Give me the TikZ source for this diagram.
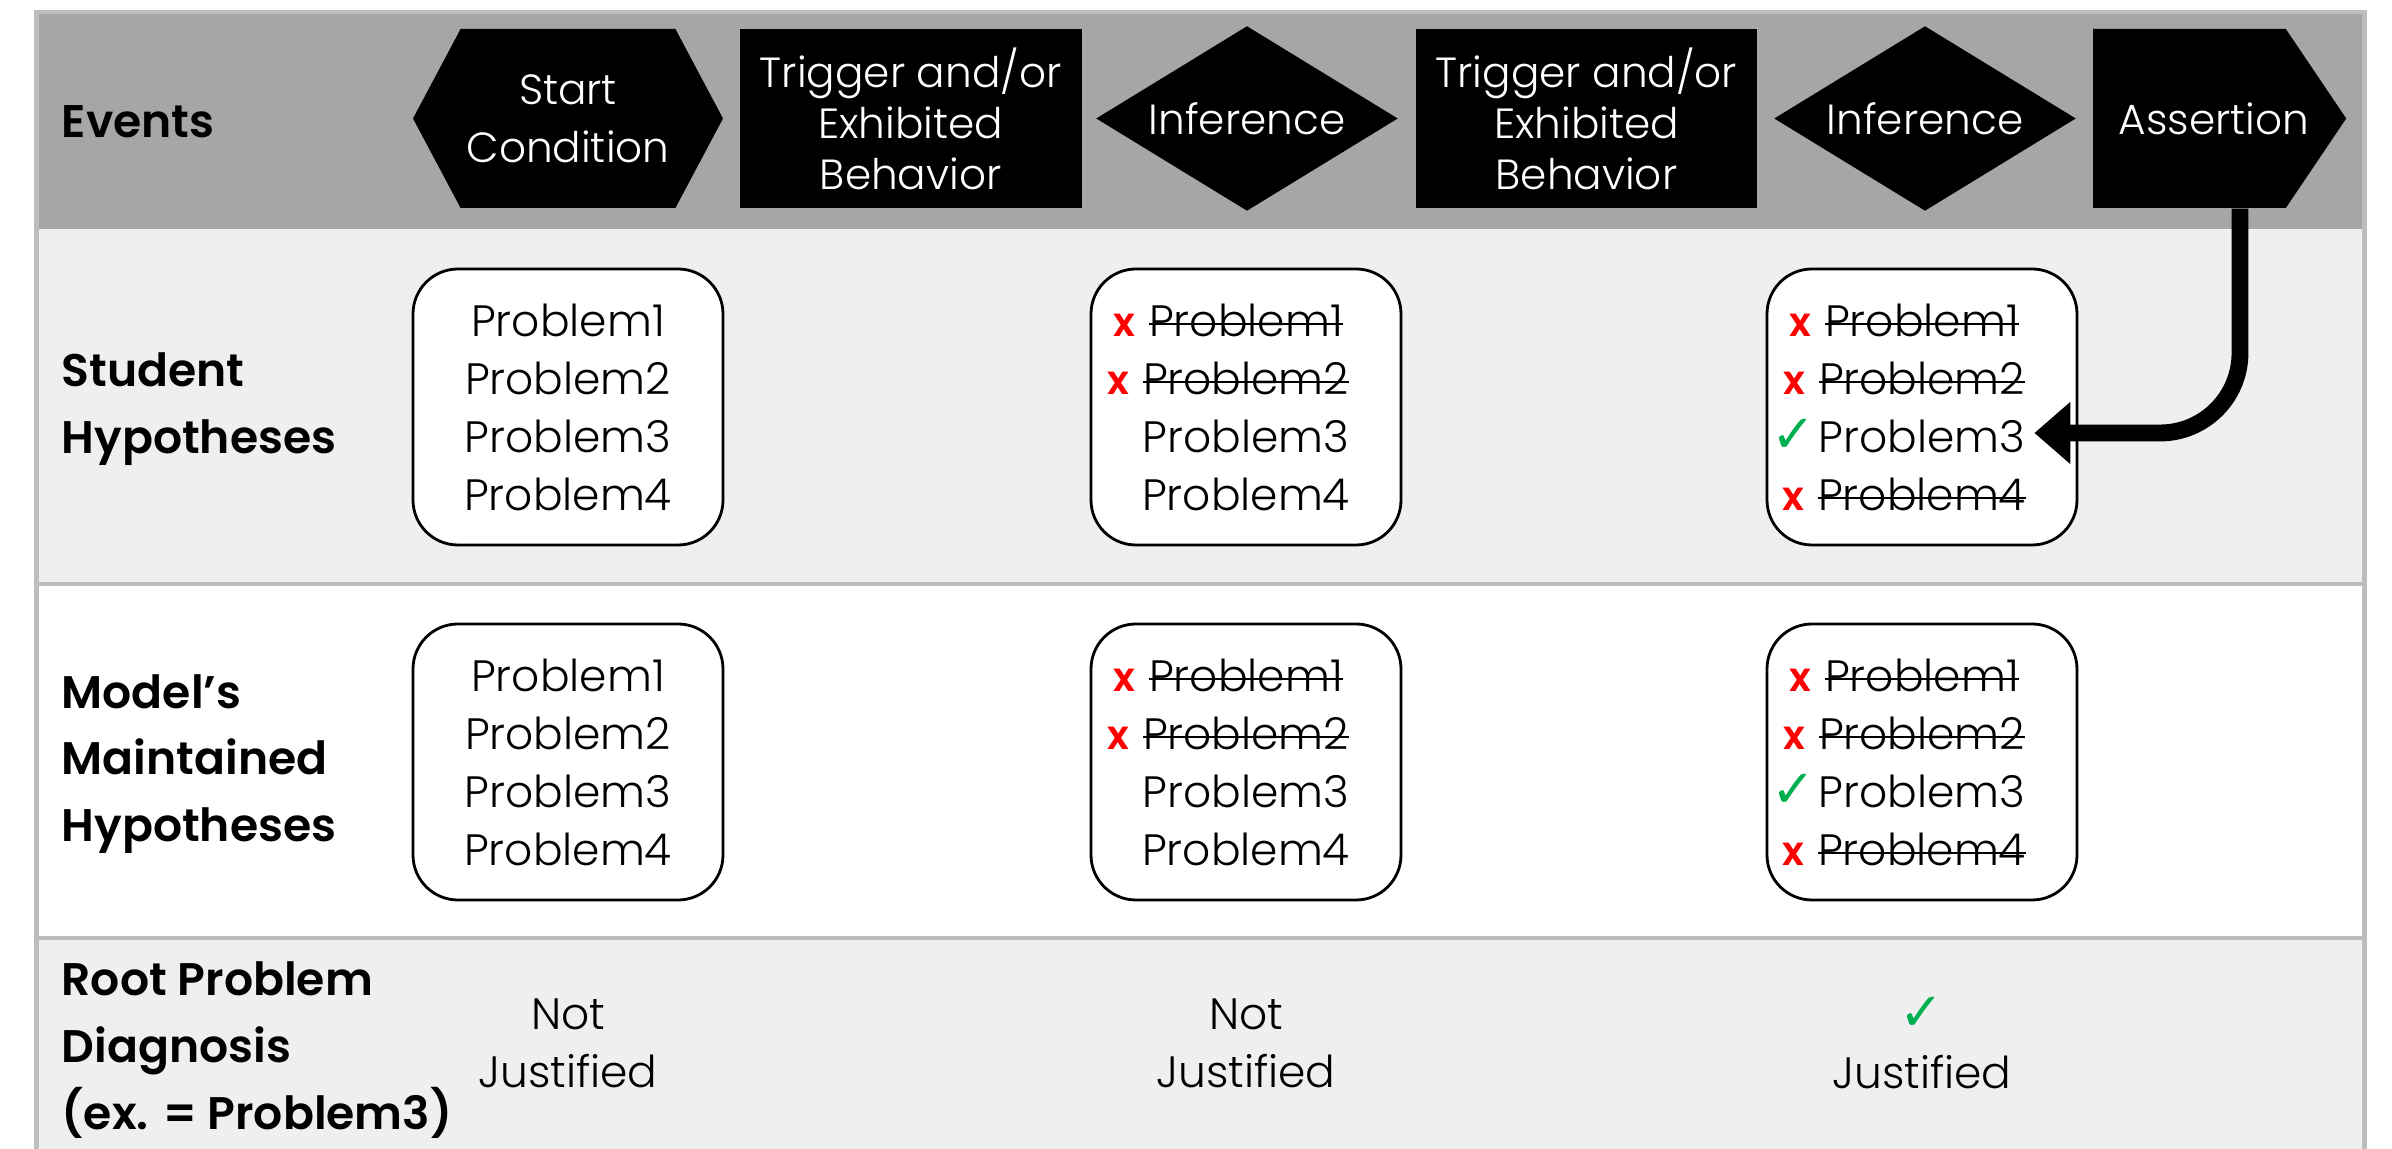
\documentclass[tikz,border=0pt]{standalone}
\usepackage{fontspec}
\setmainfont{Poppins Light}[BoldFont={Poppins SemiBold}]
\newfontfamily\labelfont{Poppins SemiBold}
\newfontfamily\symfont{DejaVu Sans}
\usetikzlibrary{shapes.geometric,shapes.symbols,arrows.meta,positioning}

\definecolor{bandgray}{HTML}{A6A6A6}
\definecolor{rowgray}{HTML}{EFEFEF}
\definecolor{rulegray}{HTML}{BDBDBD}
\definecolor{tickgreen}{HTML}{00B050}

\newcommand{\strikeout}[1]{\setbox0\hbox{#1}\rlap{\rule[0.45ex]{\wd0}{0.6pt}}\box0}
\newcommand{\tick}{\textcolor{tickgreen}{\symfont\fontsize{15}{15}\selectfont ✓}}
\newcommand{\dropped}[1]{\llap{\textcolor{red}{\bfseries\fontsize{11.5}{11.5}\selectfont x}\hspace{4pt}}\strikeout{#1}}
\newcommand{\kept}[1]{\llap{\tick\hspace{1pt}}#1}

\begin{document}
\begin{tikzpicture}[
      event hex/.style={signal,signal to=west and east,signal pointer angle=124,fill=black,text=white,
        minimum width=3.1cm,minimum height=1.79cm,inner sep=0pt,align=center,font=\fontsize{12}{16.5}\selectfont},
      event box/.style={rectangle,fill=black,text=white,minimum width=3.417cm,minimum height=1.79cm,
        inner sep=0pt,align=center,font=\fontsize{12}{14.5}\selectfont},
      event diamond/.style={diamond,aspect=1.63,fill=black,text=white,minimum width=3.02cm,
        minimum height=1.85cm,inner sep=0pt,font=\fontsize{12}{14.5}\selectfont},
      event assert/.style={signal,signal to=east,signal pointer angle=112,fill=black,text=white,
        minimum width=2.53cm,minimum height=1.79cm,inner sep=0pt,font=\fontsize{12}{14.5}\selectfont},
      hyp box/.style={rectangle,rounded corners=0.45cm,draw=black,line width=0.8pt,fill=white,
        minimum width=3.1cm,minimum height=2.76cm,align=center,font=\fontsize{12.5}{16.5}\selectfont},
      row label/.style={anchor=west,align=left,inner sep=0pt,font=\fontsize{13}{19}\selectfont\labelfont},
      verdict/.style={align=center,font=\fontsize{12.5}{16.5}\selectfont}]

      \useasboundingbox (0,0) rectangle (23.92,11.49);

      % table bands
      \fill[bandgray] (0.366,9.202) rectangle (23.645,11.368);
      \fill[rowgray] (0.366,5.647) rectangle (23.645,9.202);
      \fill[rowgray] (0.366,0) rectangle (23.645,2.108);
      \draw[rulegray,line width=1.2pt] (0.366,0) -- (0.366,11.368) -- (23.645,11.368) -- (23.645,0);
      \draw[rulegray,line width=1.2pt] (0.366,5.647) -- (23.645,5.647);
      \draw[rulegray,line width=1.2pt] (0.366,2.108) -- (23.645,2.108);

      % row labels
      \node[row label] (lev) at (0.61,10.27) {Events};
      \node[row label] (lstud) at (0.61,7.40) {Student\\Hypotheses};
      \node[row label] (lmod) at (0.61,3.85) {Model’s\\Maintained\\Hypotheses};
      \node[row label] (lroot) at (0.61,0.99) {Root Problem\\Diagnosis\\(ex. = Problem3)};

      % events
      \node[event hex] (start) at (5.68,10.305) {Start\\Condition};
      \node[event box] (trig1) at (9.107,10.305) {Trigger and/or\\Exhibited\\Behavior};
      \node[event diamond] (inf1) at (12.47,10.305) {Inference};
      \node[event box] (trig2) at (15.865,10.305) {Trigger and/or\\Exhibited\\Behavior};
      \node[event diamond] (inf2) at (19.25,10.305) {Inference};
      \node[event assert] (assert) at (21.895,10.305) {\makebox[0pt]{\hspace{0.49cm}Assertion}};

      % student hypotheses
      \node[hyp box] (s1) at (5.68,7.42) {Problem1\\Problem2\\Problem3\\Problem4};
      \node[hyp box] (s2) at (12.46,7.42) {\dropped{Problem1}\\\dropped{Problem2}\\Problem3\\Problem4};
      \node[hyp box] (s3) at (19.22,7.42) {\dropped{Problem1}\\\dropped{Problem2}\\\kept{Problem3}\\\dropped{Problem4}};

      % model's maintained hypotheses
      \node[hyp box] (m1) at (5.68,3.87) {Problem1\\Problem2\\Problem3\\Problem4};
      \node[hyp box] (m2) at (12.46,3.87) {\dropped{Problem1}\\\dropped{Problem2}\\Problem3\\Problem4};
      \node[hyp box] (m3) at (19.22,3.87) {\dropped{Problem1}\\\dropped{Problem2}\\\kept{Problem3}\\\dropped{Problem4}};

      % diagnosis
      \node[verdict] (v1) at (5.68,1.055) {Not\\Justified};
      \node[verdict] (v2) at (12.46,1.055) {Not\\Justified};
      \node[verdict] (v3) at (19.22,1.055) {\tick\\Justified};

      \draw[line width=4.8pt,rounded corners=0.8cm,-{Triangle[length=0.36cm,width=0.6cm]}]
        ([xshift=0.505cm]assert.south) |- ([xshift=-0.44cm,yshift=-0.26cm]s3.east);
    \end{tikzpicture}
\end{document}
